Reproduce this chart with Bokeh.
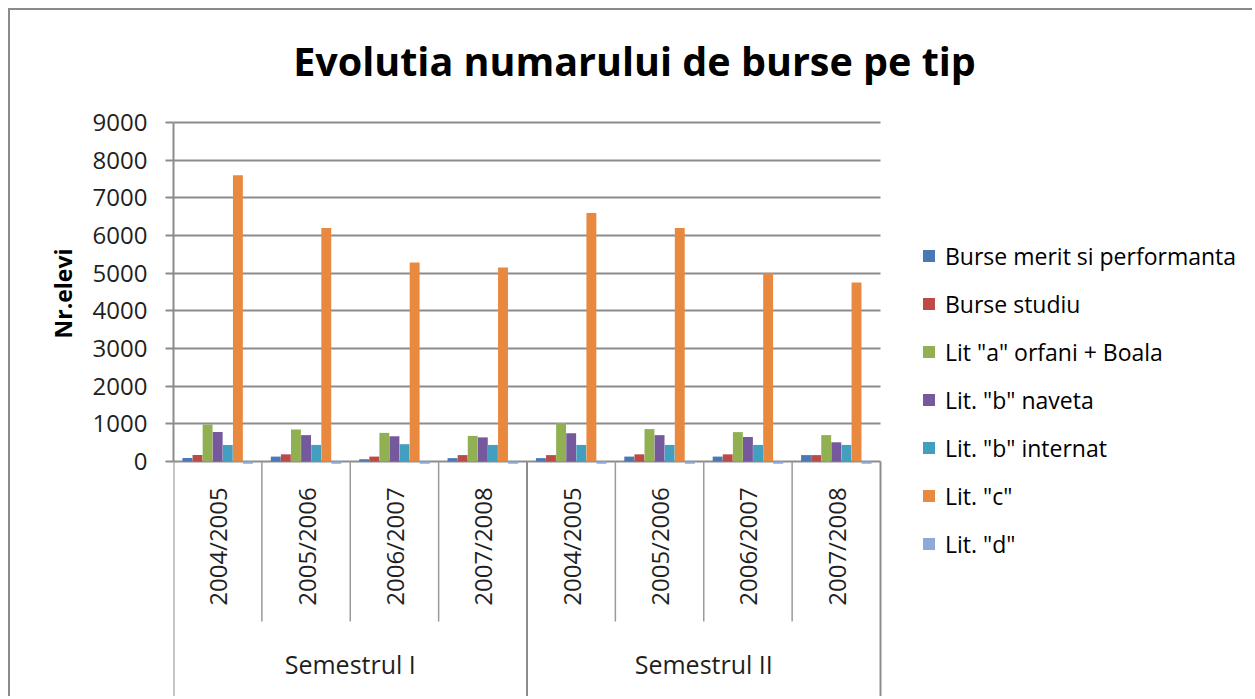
from math import pi
from bokeh.plotting import figure
from bokeh.models import ColumnDataSource, Range1d, FixedTicker, Legend, LegendItem, Title, Label
from bokeh.transform import dodge
from bokeh.core.properties import value
from bokeh.embed import file_html
from bokeh.resources import INLINE

# ---------------- data ----------------
title_text = "Evolutia numarului de burse pe tip"
y_title = "Nr.elevi"
semesters = ["Semestrul I", "Semestrul II"]
years = ["2004/2005", "2005/2006", "2006/2007", "2007/2008"]
series_names = ["Burse merit si performanta", "Burse studiu", 'Lit "a" orfani + Boala',
                'Lit. "b" naveta', 'Lit. "b" internat', 'Lit. "c"', 'Lit. "d"']
merit = [90, 130, 60, 90, 90, 130, 130, 170]
studiu = [170, 190, 130, 170, 170, 190, 190, 170]
lit_a = [980, 850, 760, 680, 1020, 860, 780, 700]
naveta = [780, 700, 670, 640, 750, 700, 650, 510]
internat = [440, 440, 460, 440, 440, 440, 440, 440]
lit_c = [7600, 6200, 5280, 5150, 6600, 6200, 5000, 4750]
lit_d = [-60, -60, -60, -60, -60, -60, -60, -60]
y_ticks = [0, 1000, 2000, 3000, 4000, 5000, 6000, 7000, 8000, 9000]

colors = ["#4a78b5", "#bc4b47", "#90b052", "#76599c", "#429fbf", "#e8893f", "#8fa9d6"]

# ---------------- layout (pixels, canvas coords) ----------------
W, H = 1244, 688
FRAME_L, PLOT_T, PLOT_R = 163, 112, 870
ZERO_PX = 451
SEP_PX = 611
YEAR_PX = 536
SEM_PX = 653
Y_MAX = 9000
px_per = (ZERO_PX - PLOT_T) / Y_MAX
y_end = Y_MAX + PLOT_T / px_per
y_start = Y_MAX - (H - PLOT_T) / px_per


def px_to_y(px):
    return -(px - ZERO_PX) / px_per


n_cat = len(semesters) * len(years)
cat_labels = [y for s in semesters for y in years]
centers = [i + 0.5 for i in range(n_cat)]
x_end = n_cat * (W - FRAME_L) / (PLOT_R - FRAME_L)

src = ColumnDataSource(dict(x=centers, merit=merit, studiu=studiu, lit_a=lit_a,
                            naveta=naveta, internat=internat, lit_c=lit_c, lit_d=lit_d))

p = figure(width=W, height=H, x_range=Range1d(0, x_end), y_range=Range1d(y_start, y_end),
           output_backend="svg", toolbar_location=None, x_axis_location=None,
           min_border_left=FRAME_L, min_border_right=0,
           min_border_top=0, min_border_bottom=0)
p.styles = {"margin-left": "8px", "margin-top": "8px",
            "border-top": "2px solid #8a8a8a", "border-left": "2px solid #8a8a8a"}
p.outline_line_color = None
p.background_fill_color = "white"
p.border_fill_color = "white"

# chart title
p.add_layout(Label(x=461, y=638, x_units="screen", y_units="screen", text=title_text,
                   text_align="center", text_baseline="middle", text_font="Open Sans",
                   text_font_size="39.5px", text_font_style="bold", text_color="#000000"))

# y axis
ticker = FixedTicker(ticks=y_ticks)
ax = p.yaxis[0]
ax.ticker = ticker
ax.bounds = (0, Y_MAX)
ax.axis_line_color = "#8c8c8c"
ax.axis_line_width = 2
ax.major_tick_line_color = "#8c8c8c"
ax.major_tick_line_width = 2
ax.major_tick_out = 8
ax.major_tick_in = 0
ax.minor_tick_line_color = None
ax.major_label_standoff = 18
ax.major_label_text_font = "Open Sans"
ax.major_label_text_font_size = "24px"
ax.major_label_text_color = "#1f1f1f"

ylab = Title(text=y_title, align="right", offset=238, standoff=21,
             text_font="Open Sans", text_font_size="23px", text_font_style="bold",
             text_color="#000000")
p.add_layout(ylab, "left")

p.ygrid.ticker = ticker
p.ygrid.cross_bounds = (0, n_cat)
p.ygrid.grid_line_color = "#8c8c8c"
p.ygrid.grid_line_width = 2
p.xgrid.visible = False

# bars
fields = ["merit", "studiu", "lit_a", "naveta", "internat", "lit_c", "lit_d"]
bw = 0.8 / len(fields)
items = []
for k, (f, name, c) in enumerate(zip(fields, series_names, colors)):
    off = (k - (len(fields) - 1) / 2) * bw
    r = p.vbar(x=dodge("x", off), top=f, bottom=0, width=bw * 0.98, source=src,
               fill_color=c, line_color=None)
    items.append(LegendItem(label=name, renderers=[r]))

# category table below the baseline
inner = [i for i in range(1, n_cat) if i % len(years) != 0]
groups = [i for i in range(0, n_cat + 1) if i % len(years) == 0]
p.segment(x0=inner, x1=inner, y0=[0] * len(inner), y1=[px_to_y(SEP_PX)] * len(inner),
          line_color="#9a9a9a", line_width=1.5)
p.segment(x0=groups, x1=groups, y0=[0] * len(groups), y1=[y_start] * len(groups),
          line_color="#8c8c8c", line_width=2)

p.text(x=centers, y=[px_to_y(YEAR_PX)] * n_cat, text=cat_labels, angle=pi / 2,
       text_align="center", text_baseline="middle", text_font=value("Open Sans"),
       text_font_size="24px", text_color="#1f1f1f")
sem_x = [len(years) * (j + 0.5) for j in range(len(semesters))]
p.text(x=sem_x, y=[px_to_y(SEM_PX)] * len(semesters), text=semesters,
       text_align="center", text_baseline="middle", text_font=value("Open Sans"),
       text_font_size="25px", text_color="#1f1f1f")

# legend (inside the wide frame, right of the bars)
legend = Legend(items=items, location=(748, 130.5), padding=0, spacing=0, margin=0,
                glyph_width=15, glyph_height=15, label_height=48, label_standoff=9,
                label_text_font="Open Sans", label_text_font_size="23px",
                label_text_color="#000000", border_line_color=None,
                background_fill_alpha=0)
p.add_layout(legend, "center")

open("out.html", "w").write(file_html(p, INLINE))
